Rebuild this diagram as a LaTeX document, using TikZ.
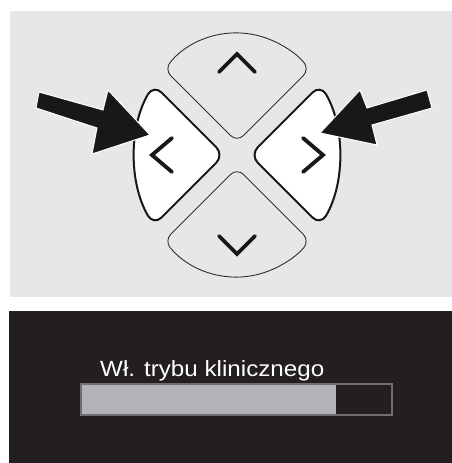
\documentclass[tikz,border=0pt]{standalone}
\usepackage{fontspec}
\setmainfont{Liberation Sans}
\usetikzlibrary{calc}
\definecolor{panelgray}{HTML}{E6E7E8}
\definecolor{screendark}{HTML}{231F20}
\definecolor{barfill}{HTML}{B1B3B6}
\definecolor{barline}{HTML}{6D6E71}
\definecolor{inkblack}{HTML}{1A1718}
\tikzset{
  smallbtn/.style={fill=panelgray, draw=inkblack!90, line width=0.9pt, rounded corners=9pt},
  bigbtn/.style={fill=white, draw=inkblack, line width=2pt, rounded corners=11pt},
  chevron/.style={draw=inkblack, line width=3.8pt, line cap=round, line join=miter},
  pointer/.style={fill=inkblack, draw=white, line width=1pt, line join=miter},
}
\begin{document}
\begin{tikzpicture}[x=1pt,y=1pt]
\useasboundingbox (0,0) rectangle (452,463);
% panels
\fill[panelgray] (10,166) rectangle (452,452);
\fill[screendark] (9,0) rectangle (452,152);
% d-pad
\coordinate (C) at (237,308);
\path[smallbtn] ($(C)+(0,13)$) -- ($(C)+(135.42:102 and 122)$)
  arc[start angle=135.42, end angle=44.58, x radius=102, y radius=122] -- cycle;
\path[smallbtn] ($(C)+(0,-13)$) -- ($(C)+(224.58:102 and 122)$)
  arc[start angle=224.58, end angle=315.42, x radius=102, y radius=122] -- cycle;
\path[bigbtn] ($(C)+(-13,0)$) -- ($(C)+(144.8:102 and 122)$)
  arc[start angle=144.8, end angle=215.2, x radius=102, y radius=122] -- cycle;
\path[bigbtn] ($(C)+(13,0)$) -- ($(C)+(35.2:102 and 122)$)
  arc[start angle=35.2, end angle=-35.2, x radius=102, y radius=122] -- cycle;
% chevrons
\draw[chevron] (219,391) -- (237,409) -- (255,391);
\draw[chevron] (219,227) -- (237,209) -- (255,227);
\draw[chevron] (172,325) -- (152,308) -- (172,291);
\draw[chevron] (303,325) -- (323,308) -- (303,291);
% arrows
\filldraw[pointer] (39,371) -- (103,353) -- (108,373) -- (150,328) -- (92,309) -- (97,335) -- (36,355) -- cycle;
\filldraw[pointer] (427,373) -- (432,355) -- (372,338) -- (377,318) -- (320,330) -- (360,373) -- (367,355) -- cycle;
% screen
\node[anchor=base west, inner sep=0pt, text=white, font=\fontsize{22}{26}\selectfont] (label) at (100,86)
  {\scalebox{1.1}[1]{Wł. trybu klinicznego}};
\fill[barfill] (81,48) rectangle (336,79);
\draw[barline, line width=1.2pt] (81,48) rectangle (392,79);
\end{tikzpicture}
\end{document}
